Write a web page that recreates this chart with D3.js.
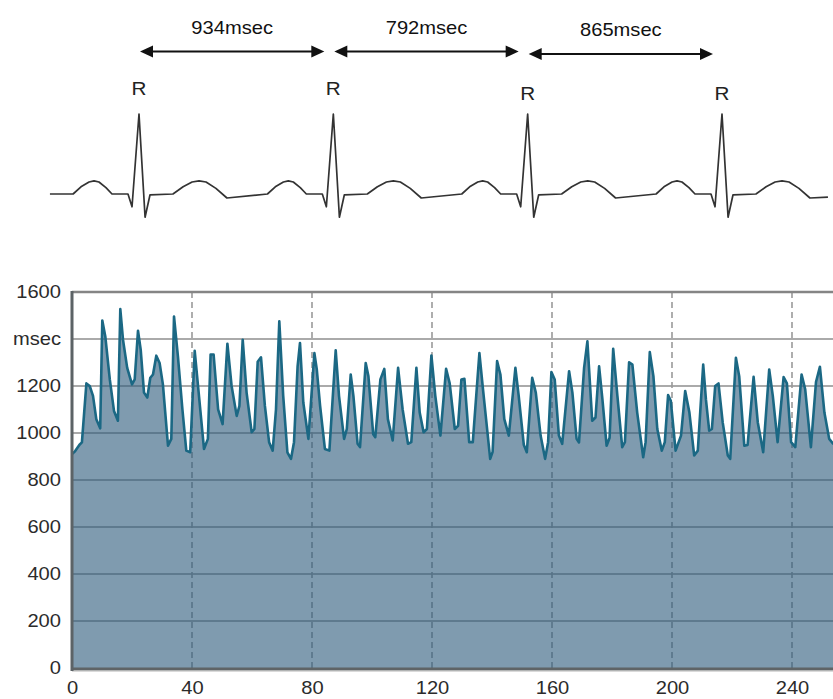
<!DOCTYPE html>
<html>
<head>
<meta charset="utf-8">
<script src="https://cdn.jsdelivr.net/npm/d3@7"></script>
<style>
body { margin: 0; background: #fff; }
text { font-family: "Liberation Sans", Arial, sans-serif; }
</style>
</head>
<body>
<div id="chart"></div>
<script>
// RR tachogram: beat number and RR interval (msec), read at the turning points
var beatIndex = [0,1,2.5,3.3,4.8,5.9,7,8.1,9.4,10.1,11.1,12.6,14,15.3,16.1,17,18.4,20,20.9,22,22.9,24,25.1,26.1,27,28.1,29.2,30.3,32,33.1,34,35.3,36.8,38.1,39.4,40.9,44,45.3,46.2,47.2,48.7,50.2,51.8,53.2,54.9,55.8,56.9,58.2,59.9,60.8,61.9,63,64.3,65.7,66.9,68,69.1,70.4,71.8,73,74,75.2,76,77.1,78.8,80.8,81.6,82.7,84.3,85.8,87.9,89,90.7,91.6,92.9,93.8,95.2,96,97.9,98.8,100.4,101.1,102.8,104.1,105.3,106.9,108.7,110.2,112,113.1,114.8,115.9,117.2,118.3,119.8,121.1,122.8,124.7,125.9,127.6,128.7,129.8,130.8,132.4,133.6,135.8,137,139.4,140.2,141.7,142.8,144.1,145.6,147.8,148.9,150.6,151.6,153.4,154.6,156.2,157.7,158.7,159.8,160.9,162.3,163.4,165.7,166.8,168.2,169,170.7,171.8,173.4,174.5,175.7,176.8,178.2,179.2,180.4,181.8,183.4,184.3,185.7,186.8,188.4,190.4,191.2,192.6,193.8,195.1,196.6,197.6,198.7,199.6,201.2,203,204.4,205.8,207.4,208.6,210.4,211.3,212.4,213.3,214.4,215.5,216.9,218.6,219.4,221.3,222.4,224.1,225.2,227.2,228.6,230.4,232.4,233.6,235.2,237.2,238.3,239.7,241.1,243.2,244.4,246.3,248,249.3,250.8,252.4,253.7,255];
var rrMsec = [910,922,950,960,1211,1200,1158,1059,1020,1479,1411,1228,1094,1052,1527,1397,1277,1207,1228,1435,1355,1172,1151,1235,1249,1329,1298,1207,946,975,1496,1327,1101,925,918,1350,932,975,1334,1334,1101,1038,1380,1200,1073,1115,1397,1172,1003,1017,1303,1322,1115,961,925,1101,1475,1158,918,890,961,1284,1383,1130,975,1340,1270,1115,932,925,1352,1158,975,1017,1249,1158,954,940,1298,1242,995,982,1228,1273,1059,968,1277,1101,954,961,1277,1087,1003,1017,1330,1158,989,1273,1211,1017,1031,1228,1231,961,961,1340,1186,890,920,1306,1249,1059,989,1277,1158,950,918,1235,1172,989,890,961,1259,1228,989,954,1263,1172,975,960,1277,1390,1052,1066,1284,1144,946,980,1358,1158,940,961,1301,1291,1087,897,961,1344,1242,1017,925,961,1161,1137,925,989,1179,1087,904,925,1291,1144,1010,1017,1200,1211,1045,904,890,1320,1242,946,949,1239,1045,918,1270,1158,961,1238,1211,961,940,1249,1186,940,1217,1282,1087,975,955,950];

var yTicks = [0, 200, 400, 600, 800, 1000, 1200, 1400, 1600];
var yTickText = { 1400: "msec" };
var xTicks = [0, 40, 80, 120, 160, 200, 240];

// ECG sketch: R peaks drawn evenly spaced (schematic), labelled intervals
var rPeakMs = [0, 864, 1728, 2592];
var rrLabels = ["934msec", "792msec", "865msec"];
// one PQRST complex relative to its R peak (ms, mV)
var beatMs = [-293,-258,-222,-200,-178,-147,-120,-49,-31,0,27,49,151,196,236,267,298,342,391];
var beatMv = [0,0.09,0.15,0.165,0.15,0.08,0,0,-0.16,1,-0.29,-0.01,0,0.09,0.15,0.165,0.15,0.07,-0.05];
var leadIn = [-396, 0];
var leadOut = [471, -0.04];

var W = 833, H = 699;
var STRETCH = "scale(1.15,1)";   // the source lettering is a bit wide
var svg = d3.select("#chart").append("svg").attr("width", W).attr("height", H);

// ---------- ECG ----------
var ex = d3.scaleLinear().domain([0, 2592]).range([139, 722]);
var ey = d3.scaleLinear().domain([0, 1]).range([194, 114]);

var ecgPts = [leadIn];
rPeakMs.forEach(function(r) {
  beatMs.forEach(function(t, i) { ecgPts.push([r + t, beatMv[i]]); });
});
ecgPts.push([rPeakMs[rPeakMs.length - 1] + leadOut[0], leadOut[1]]);

svg.append("path")
  .datum(ecgPts)
  .attr("fill", "none")
  .attr("stroke", "#333")
  .attr("stroke-width", 1.7)
  .attr("stroke-linejoin", "round")
  .attr("d", d3.line().x(function(d) { return ex(d[0]); }).y(function(d) { return ey(d[1]); }));

var rLabelY = [94.5, 94.5, 99.5, 99.5];
svg.selectAll(".rlab").data(rPeakMs).enter().append("text")
  .attr("transform", function(d, i) { return "translate(" + ex(d) + "," + rLabelY[i] + ") " + STRETCH; })
  .attr("text-anchor", "middle")
  .style("font-size", "18px")
  .style("fill", "#222")
  .text("R");

// interval arrows
var arrowY = [51.5, 51.5, 54];
rrLabels.forEach(function(lab, i) {
  var x1 = ex(rPeakMs[i]) + 1, x2 = ex(rPeakMs[i + 1]) - 9, y = arrowY[i];
  var g = svg.append("g");
  g.append("line").attr("x1", x1 + 8).attr("x2", x2 - 8).attr("y1", y).attr("y2", y)
    .attr("stroke", "#111").attr("stroke-width", 2);
  g.append("path").attr("d", "M" + x1 + "," + y + "L" + (x1 + 13) + "," + (y - 6) + "L" + (x1 + 13) + "," + (y + 6) + "Z").attr("fill", "#111");
  g.append("path").attr("d", "M" + x2 + "," + y + "L" + (x2 - 13) + "," + (y - 6) + "L" + (x2 - 13) + "," + (y + 6) + "Z").attr("fill", "#111");
  g.append("text")
    .attr("transform", "translate(" + ((x1 + x2) / 2) + "," + (y - 18) + ") " + STRETCH)
    .attr("text-anchor", "middle")
    .style("font-size", "17.5px")
    .style("fill", "#111")
    .text(lab);
});

// ---------- RR tachogram ----------
var x = d3.scaleLinear().domain([0, 256]).range([72, 840]);
var y = d3.scaleLinear().domain([0, 1600]).range([668, 292]);

var rr = beatIndex.map(function(b, i) { return { b: b, v: rrMsec[i] }; });

svg.append("clipPath").attr("id", "plotclip")
  .append("rect").attr("x", 72).attr("y", 280).attr("width", W - 72).attr("height", 390);

var plot = svg.append("g").attr("clip-path", "url(#plotclip)");

// horizontal grid (under the translucent area so it shows through darker)
plot.selectAll(".hgrid").data(yTicks.slice(1)).enter().append("line")
  .attr("x1", 72).attr("x2", W)
  .attr("y1", function(d) { return y(d); }).attr("y2", function(d) { return y(d); })
  .attr("stroke", "#aaaaaa").attr("stroke-width", 2);

plot.selectAll(".vgrid").data(xTicks.slice(1)).enter().append("line")
  .attr("x1", function(d) { return x(d); }).attr("x2", function(d) { return x(d); })
  .attr("y1", y(1600)).attr("y2", y(0))
  .attr("stroke", "#9a9a9a").attr("stroke-width", 1.6)
  .attr("stroke-dasharray", "6,4");

plot.append("path")
  .datum(rr)
  .attr("fill", "rgb(45,91,125)")
  .attr("fill-opacity", 0.61)
  .attr("d", d3.area().x(function(d) { return x(d.b); }).y0(y(0)).y1(function(d) { return y(d.v); }));

plot.append("path")
  .datum(rr)
  .attr("fill", "none")
  .attr("stroke", "#1b6884")
  .attr("stroke-width", 2.6)
  .attr("stroke-linejoin", "round")
  .attr("d", d3.line().x(function(d) { return x(d.b); }).y(function(d) { return y(d.v); }));

// frame
svg.append("line").attr("x1", 72).attr("x2", W).attr("y1", y(1600)).attr("y2", y(1600))
  .attr("stroke", "#858585").attr("stroke-width", 2.5);
svg.append("line").attr("x1", 72).attr("x2", W).attr("y1", y(0) + 1).attr("y2", y(0) + 1)
  .attr("stroke", "#5f6466").attr("stroke-width", 3);
svg.append("line").attr("x1", 72).attr("x2", W).attr("y1", y(0) + 3).attr("y2", y(0) + 3)
  .attr("stroke", "#b5b5b5").attr("stroke-width", 1);
svg.append("line").attr("x1", 72).attr("x2", 72).attr("y1", y(1600) - 1).attr("y2", y(0) + 3)
  .attr("stroke", "#5c6366").attr("stroke-width", 3);

// axes (labels only)
var yAxis = d3.axisLeft(y).tickValues(yTicks).tickSize(0).tickPadding(9.6)
  .tickFormat(function(d) { return yTickText[d] || d; });
var gy = svg.append("g").attr("transform", "translate(72,0)").call(yAxis);
var xAxis = d3.axisBottom(x).tickValues(xTicks).tickSize(0).tickPadding(14).tickFormat(d3.format("d"));
var gx = svg.append("g").attr("transform", "translate(0," + y(0) + ")").call(xAxis);
[gy, gx].forEach(function(g) {
  g.select(".domain").remove();
  g.selectAll("text").style("font-size", "17.5px").style("fill", "#2b2b2b")
    .style("font-family", "'Liberation Sans', Arial, sans-serif")
    .attr("transform", STRETCH);
});
</script>
</body>
</html>
